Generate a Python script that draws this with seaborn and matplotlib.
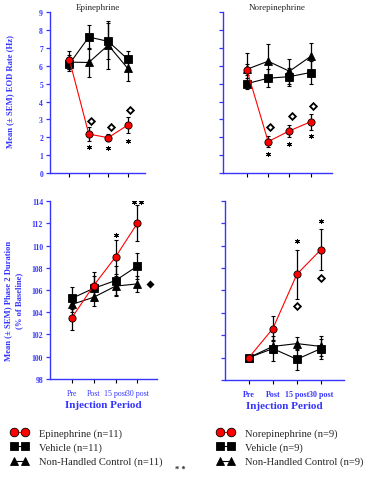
import numpy as np
import pandas as pd
import matplotlib
matplotlib.use("Agg")
import matplotlib.pyplot as plt
from matplotlib.lines import Line2D
import seaborn as sns

sns.set_style("ticks")
plt.rcParams['font.family'] = ['Liberation Serif', 'DejaVu Serif']

BLUE = "#3535ff"

##-> data
periods = ["Pre", "Post", "15 post", "30 post"]

# EOD rate (Hz), epinephrine panel
epi_rate = [6.33, 2.18, 1.98, 2.68]
epi_rate_sem = [0.5, 0.4, 0.2, 0.45]
epi_veh_rate = [6.1, 7.6, 7.36, 6.37]
epi_veh_rate_sem = [0.4, 0.65, 1.0, 0.45]
epi_nhc_rate = [6.2, 6.18, 7.15, 5.86]
epi_nhc_rate_sem = [0.4, 0.8, 1.35, 0.7]

# EOD rate (Hz), norepinephrine panel
ne_rate = [5.77, 1.76, 2.36, 2.87]
ne_rate_sem = [0.3, 0.3, 0.35, 0.45]
ne_veh_rate = [5.0, 5.3, 5.39, 5.62]
ne_veh_rate_sem = [0.3, 0.5, 0.5, 0.65]
ne_nhc_rate = [5.8, 6.25, 5.69, 6.52]
ne_nhc_rate_sem = [0.9, 0.95, 0.7, 0.75]

# phase 2 duration (% of baseline), epinephrine panel
epi_dur = [103.5, 106.4, 108.97, 112.0]
epi_dur_sem = [1.1, 1.2, 1.5, 1.6]
epi_veh_dur = [105.25, 106.15, 106.85, 108.15]
epi_veh_dur_sem = [1.0, 1.1, 1.3, 1.15]
epi_nhc_dur = [104.7, 105.35, 106.35, 106.55]
epi_nhc_dur_sem = [0.7, 0.8, 0.9, 0.75]

# phase 2 duration (% of baseline), norepinephrine panel
ne_dur = [100.0, 102.6, 107.45, 109.65]
ne_dur_sem = [0.1, 1.1, 2.2, 1.85]
ne_veh_dur = [100.0, 100.8, 99.85, 100.8]
ne_veh_dur_sem = [0.1, 1.1, 0.95, 0.9]
ne_nhc_dur = [100.0, 101.0, 101.25, 101.0]
ne_nhc_dur_sem = [0.1, 0.6, 0.6, 0.9]

# significance marks: stars and diamonds (period index, y)
epi_rate_stars = [(1, 1.45), (2, 1.4), (3, 1.8)]
epi_rate_diam = [(1, 2.9), (2, 2.6), (3, 3.5)]
ne_rate_stars = [(1, 1.05), (2, 1.65), (3, 2.05)]
ne_rate_diam = [(1, 2.6), (2, 3.2), (3, 3.75)]
epi_dur_stars = [(2, 110.95), (2.85, 113.9), (3.15, 113.9)]
epi_dur_diam = [(3.6, 106.5)]
ne_dur_stars = [(2, 110.4), (3, 112.2)]
ne_dur_diam = [(2, 104.6), (3, 107.1)]

legend_left = ["Epinephrine (n=11)", "Vehicle (n=11)", "Non-Handled Control (n=11)"]
legend_right = ["Norepinephrine (n=9)", "Vehicle (n=9)", "Non-Handled Control (n=9)"]

styles = {
    "drug": dict(color="red", marker="o", mfc="red", ms=5.2),
    "veh": dict(color="black", marker="s", mfc="black", ms=5.2),
    "nhc": dict(color="black", marker="^", mfc="black", ms=5.5),
}


def panel(ax, series, xlim, ylim, yticks, label_y, stars, diam, diam_dx, diam_filled=False):
    rows = []
    for key, (vals, sems) in series.items():
        for i, (v, s) in enumerate(zip(vals, sems)):
            rows.append(dict(grp=key, x=i, y=v, err=s))
    df = pd.DataFrame(rows)
    # error bars first
    for key in ["nhc", "veh", "drug"]:
        d = df[df.grp == key]
        ax.errorbar(d["x"], d["y"], yerr=d["err"], fmt="none", ecolor="black",
                    elinewidth=0.9, capsize=1.6, capthick=0.8, zorder=2)
    for key in ["nhc", "veh", "drug"]:
        st = styles[key]
        d = df[df.grp == key]
        sns.lineplot(data=d, x="x", y="y", ax=ax, color=st["color"], lw=0.8,
                     marker=st["marker"], markerfacecolor=st["mfc"],
                     markeredgecolor="black", markeredgewidth=0.6,
                     markersize=st["ms"], zorder=3 if key != "drug" else 4)
    for x, y in stars:
        ax.plot(x, y, marker=(6, 2, 0), ms=3.6, mew=0.7, color="black", zorder=5)
    for x, y in diam:
        ax.plot(x + diam_dx, y, marker="D", ms=3.4 if not diam_filled else 2.8,
                mfc="black" if diam_filled else "white", mec="black",
                mew=1.3, zorder=5)
    ax.set_xlim(*xlim)
    ax.set_ylim(*ylim)
    ax.set_yticks(yticks)
    ax.set_xticks(range(len(periods)))
    ax.set_xlabel("")
    ax.set_ylabel("")
    sns.despine(ax=ax)
    for sp in ["left", "bottom"]:
        ax.spines[sp].set_color(BLUE)
        ax.spines[sp].set_linewidth(1.0)
    ax.tick_params(axis="y", colors=BLUE, length=3, width=0.9, labelsize=5.5, pad=2)
    ax.tick_params(axis="x", colors="black", length=3, width=0.8, labelsize=5.5, pad=4)
    if label_y:
        ax.set_yticklabels([str(t) for t in yticks], color=BLUE, fontweight="bold")
    else:
        ax.set_yticklabels([])


fig = plt.figure(figsize=(3.73, 4.81), dpi=100)

ax1 = fig.add_axes([0.134, 0.638, 0.255, 0.335])
panel(ax1, {"drug": (epi_rate, epi_rate_sem), "veh": (epi_veh_rate, epi_veh_rate_sem),
            "nhc": (epi_nhc_rate, epi_nhc_rate_sem)},
      (-1.0, 3.9), (0, 9), range(0, 10), True, epi_rate_stars, epi_rate_diam, 0.12)
ax1.set_xticklabels([])
ax1.set_title("Epinephrine", fontsize=6.5, pad=2)

ax2 = fig.add_axes([0.598, 0.638, 0.292, 0.335])
panel(ax2, {"drug": (ne_rate, ne_rate_sem), "veh": (ne_veh_rate, ne_veh_rate_sem),
            "nhc": (ne_nhc_rate, ne_nhc_rate_sem)},
      (-1.12, 4.0), (0, 9), range(0, 10), False, ne_rate_stars, ne_rate_diam, 0.1)
ax2.set_xticklabels([])
ax2.set_title("Norepinephrine", fontsize=6.5, pad=2)

ax3 = fig.add_axes([0.134, 0.210, 0.287, 0.370])
panel(ax3, {"drug": (epi_dur, epi_dur_sem), "veh": (epi_veh_dur, epi_veh_dur_sem),
            "nhc": (epi_nhc_dur, epi_nhc_dur_sem)},
      (-1.0, 3.9), (98, 114), range(98, 115, 2), True, epi_dur_stars, epi_dur_diam, 0.0,
      diam_filled=True)

ax4 = fig.add_axes([0.603, 0.208, 0.319, 0.372])
panel(ax4, {"drug": (ne_dur, ne_dur_sem), "veh": (ne_veh_dur, ne_veh_dur_sem),
            "nhc": (ne_nhc_dur, ne_nhc_dur_sem)},
      (-1.0, 3.96), (98, 114), range(98, 115, 2), False, ne_dur_stars, ne_dur_diam, 0.0)

ax3.set_xticklabels(periods, color=BLUE, fontsize=5.7)
ax4.set_xticklabels(periods, color=BLUE, fontweight="bold", fontsize=5.8)
for ax in (ax3, ax4):
    ax.set_xlabel("Injection Period", color=BLUE, fontweight="bold", fontsize=8, labelpad=2.5)

fig.text(0.027, 0.81, "Mean (\u00b1 SEM) EOD Rate (Hz)", rotation=90, color=BLUE,
         fontweight="bold", fontsize=6.2, ha="center", va="center")
fig.text(0.037, 0.375, "Mean (\u00b1 SEM) Phase 2 Duration\n(% of Baseline)", rotation=90,
         color=BLUE, fontweight="bold", fontsize=6.2, ha="center", va="center",
         multialignment="center", linespacing=1.4)

# legends
def handles():
    out = []
    for key in ["drug", "veh", "nhc"]:
        st = styles[key]
        out.append(Line2D([0], [0], color=st["color"], lw=0.8, marker=st["marker"],
                          mfc=st["mfc"], mec="black", mew=0.6, ms=6.2))
    return out

for labels, x0 in [(legend_left, 0.030), (legend_right, 0.582)]:
    fig.legend(handles(), labels, loc="upper left", bbox_to_anchor=(x0, 0.108),
               frameon=False, numpoints=2, handlelength=1.6, handletextpad=1.0,
               labelspacing=0.45, fontsize=7.6, borderaxespad=0, borderpad=0)

fig.text(0.483, 0.023, "* *", fontsize=6, fontweight="bold", ha="center", va="center")

fig.savefig("out.png", dpi=100)
